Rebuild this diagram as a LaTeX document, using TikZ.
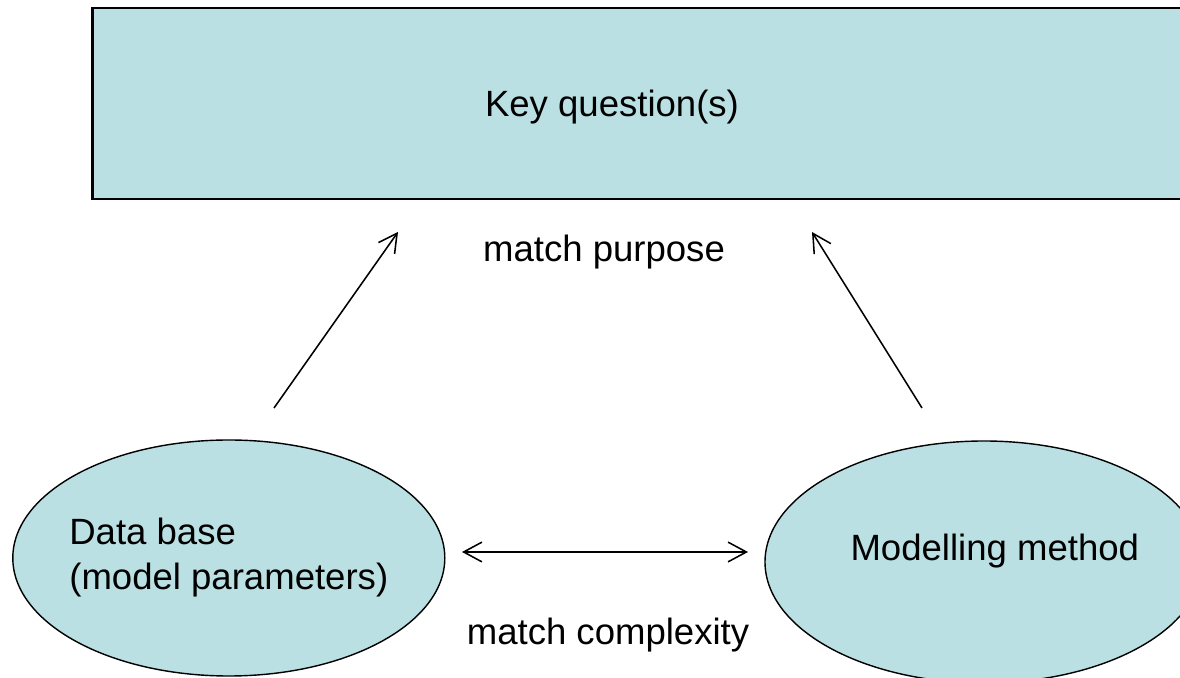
\documentclass[tikz,border=0pt]{standalone}
\usepackage{fontspec}
\setmainfont{Liberation Sans}
\usepackage{tikz}
\usetikzlibrary{arrows.meta,shapes.geometric,positioning}
\definecolor{paleteal}{RGB}{186,224,227}

\begin{document}
\begin{tikzpicture}[
    every node/.style={font=\fontsize{26}{32}\selectfont},
    keybox/.style={draw, line width=1.7pt, fill=paleteal, minimum width=28.2cm, minimum height=4.78cm, inner sep=0pt},
    bubble/.style={draw, ellipse, line width=1pt, fill=paleteal, inner sep=0pt},
    link/.style={line width=1.1pt, arrows={-Straight Barb[length=13pt,width=14pt]}}
  ]
          \useasboundingbox (0,0) rectangle (29.5,16.95);
          \clip (0,0) rectangle (29.5,16.95);
          \node[keybox] (kq) at (16.41,14.36) {};
          \node[anchor=base] (kqtext) at (15.3,14.03) {Key question(s)};
          \node[bubble, minimum width=10.8cm, minimum height=5.9cm] (db) at (5.72,3.0) {};
          \node[align=left] (dbtext) at (db.center) {Data base\\(model parameters)};
          \node[bubble, minimum width=10.95cm, minimum height=6.05cm] (mm) at (24.6,2.9) {};
          \node (mmtext) at (24.87,3.18) {Modelling method};
          \node[anchor=base] (purpose) at (15.1,10.4) {match purpose};
          \node[anchor=base] (complexity) at (15.2,0.83) {match complexity};
          \coordinate (dbup) at (6.85,6.75);
          \coordinate (kqleft) at (9.95,11.15);
          \coordinate (mmup) at (23.05,6.75);
          \coordinate (kqright) at (20.3,11.15);
          \coordinate (dbright) at (11.55,3.15);
          \coordinate (mmleft) at (18.7,3.15);
          \draw[link] (dbup) -- (kqleft);
          \draw[link] (mmup) -- (kqright);
          \draw[link, arrows={Straight Barb[length=13pt,width=14pt]-Straight Barb[length=13pt,width=14pt]}] (dbright) -- (mmleft);
        \end{tikzpicture}
\end{document}
